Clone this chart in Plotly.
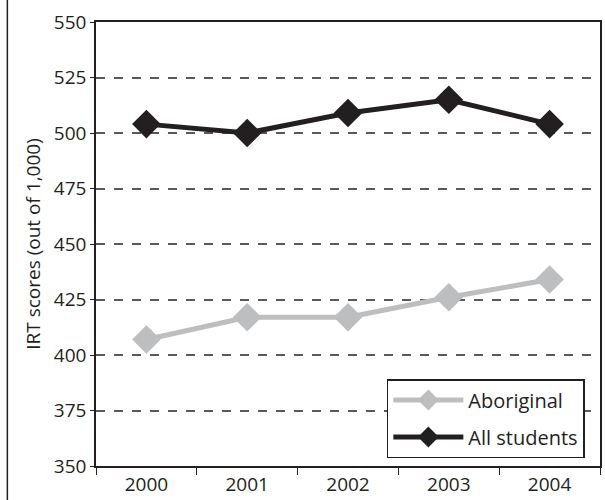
import plotly.graph_objects as go

years = ["2000", "2001", "2002", "2003", "2004"]
aboriginal = [407, 417, 417, 426, 434]
all_students = [504, 500, 509, 515, 504]
y_ticks = [350, 375, 400, 425, 450, 475, 500, 525, 550]

W, H = 605, 500
ML, MR, MT, MB = 96, 3, 22, 34
FONT = "Open Sans, Noto Sans, sans-serif"

fig = go.Figure()
fig.add_trace(go.Scatter(
    x=years, y=aboriginal, name="Aboriginal", mode="lines+markers",
    legendgroup="a",
    line=dict(color="#bcbec0", width=5),
    marker=dict(symbol="diamond", size=22, color="#bcbec0"),
))
fig.add_trace(go.Scatter(
    x=years, y=all_students, name="All students", mode="lines+markers",
    legendgroup="b",
    line=dict(color="#231f20", width=5),
    marker=dict(symbol="diamond", size=22, color="#231f20"),
))

# left page rule
pw = W - ML - MR
ph = H - MT - MB
fig.add_shape(type="line", xref="paper", yref="paper",
              x0=(7 - ML) / pw, x1=(7 - ML) / pw, y0=-MB / ph, y1=1 + MT / ph,
              line=dict(color="#231f20", width=1.5))

fig.update_layout(
    width=W, height=H,
    margin=dict(l=ML, r=MR, t=MT, b=MB),
    paper_bgcolor="white", plot_bgcolor="white",
    font=dict(family=FONT, size=19, color="#231f20"),
    showlegend=True,
    legend=dict(
        x=(388 - ML) / pw, y=(466 - 458) / ph,
        xanchor="left", yanchor="bottom",
        bordercolor="#231f20", borderwidth=1.5, bgcolor="white",
        font=dict(size=20, family=FONT, color="#231f20"),
        itemwidth=70, tracegroupgap=8,
    ),
    xaxis=dict(
        type="category", range=[-0.5, 4.5],
        showline=True, linecolor="#231f20", linewidth=1.5, mirror=True,
        ticks="outside", tickson="boundaries", ticklen=7, tickcolor="#231f20",
        showgrid=False, zeroline=False,
        tickfont=dict(size=19),
    ),
    yaxis=dict(
        range=[350, 550], tickvals=y_ticks,
        showline=True, linecolor="#231f20", linewidth=1.5, mirror=True,
        ticks="outside", ticklen=4, tickcolor="#231f20",
        showgrid=True, gridcolor="#58595b", gridwidth=1.5, griddash="dash",
        zeroline=False,
        tickfont=dict(size=19),
        title=dict(text="IRT scores (out of 1,000)", font=dict(size=19), standoff=8),
    ),
)

fig.write_html("out.html")
